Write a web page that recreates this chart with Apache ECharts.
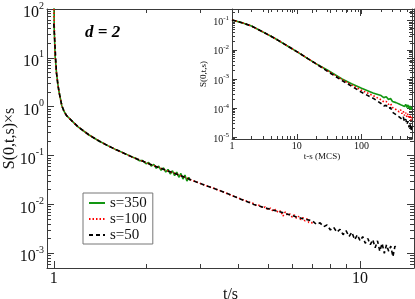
<!DOCTYPE html>
<html><head><meta charset="utf-8">
<script src="https://cdn.jsdelivr.net/npm/echarts@6/dist/echarts.min.js"></script>
<style>html,body{margin:0;padding:0;background:#fff}#c{width:415px;height:299px}</style>
</head><body><div id="c"></div>
<script>
// ---------- MAIN PLOT DATA: S(0,t,s) x s versus t/s ----------
const main350X = [1.0,1.003,1.006,1.01,1.015,1.02,1.03,1.04,1.05,1.062,1.08,1.1,1.15,1.2,1.3,1.4,1.5,1.6,1.7,1.8,1.85,1.9,1.95,2.0,2.04,2.08,2.12,2.16,2.2,2.24,2.28,2.32,2.36,2.4,2.44,2.48,2.52,2.56,2.6,2.64,2.68,2.72,2.76,2.78];
const main350Y = [350,37,23,10.5,7.5,5.0,3.0,2.0,1.5,1.05,0.8,0.66,0.50,0.388,0.267,0.201,0.160,0.131,0.111,0.094,0.088,0.079,0.079,0.068,0.072,0.061,0.066,0.055,0.061,0.050,0.056,0.046,0.052,0.042,0.049,0.039,0.046,0.036,0.043,0.033,0.040,0.030,0.036,0.031];
const main100X = [1.0,1.01,1.015,1.02,1.03,1.04,1.05,1.062,1.08,1.1,1.15,1.2,1.3,1.4,1.5,1.6,1.8,2.0,2.2,2.4,2.6,2.8,3.0,3.5,4.0,4.3,4.5,4.6,4.7,4.8,4.9,5.0,5.1,5.2,5.3,5.4,5.5,5.6,5.7,5.8,5.9,6.0,6.1,6.2,6.3,6.4,6.5,6.6,6.7,6.8,6.9,7.0];
const main100Y = [100,10.5,7.5,5.0,3.0,2.0,1.5,1.05,0.8,0.66,0.50,0.388,0.267,0.201,0.160,0.131,0.094,0.0718,0.057,0.0465,0.0388,0.032,0.027,0.019,0.0135,0.0114,0.0104,0.0093,0.0097,0.0085,0.0089,0.0078,0.0084,0.0073,0.0079,0.0068,0.0074,0.0058,0.0070,0.0060,0.0064,0.0055,0.0061,0.0052,0.0057,0.0049,0.0054,0.0046,0.0051,0.0043,0.0047,0.0042];
const main50X = [1.0,1.02,1.03,1.04,1.05,1.062,1.08,1.1,1.15,1.2,1.3,1.4,1.5,1.6,1.8,2.0,2.2,2.4,2.6,2.8,3.0,3.5,4.0,4.5,5.0,5.5,6.0,6.5,7.0,7.2,7.4,7.6,7.8,8.0,8.2,8.4,8.6,8.8,9.0,9.2,9.4,9.6,9.8,10.0,10.2,10.4,10.6,10.8,11.0,11.2,11.4,11.6,11.8,12.0,12.2,12.4,12.6,12.8,13.0,13.2];
const main50Y = [50,5.0,3.0,2.0,1.5,1.05,0.8,0.66,0.50,0.388,0.267,0.201,0.160,0.131,0.094,0.0718,0.057,0.0465,0.0388,0.032,0.027,0.019,0.0135,0.0100,0.0082,0.0070,0.0059,0.0051,0.0046,0.0039,0.0042,0.0035,0.0038,0.0030,0.0034,0.0027,0.0031,0.0024,0.0029,0.0022,0.0027,0.0019,0.0024,0.0018,0.0022,0.0016,0.0020,0.0015,0.0019,0.0013,0.0018,0.0011,0.0016,0.0010,0.0015,0.0011,0.0014,0.00085,0.0014,0.0012];

// ---------- INSET DATA: S(0,t,s) versus t-s (MCS) ----------
const insetX = [1,1.5,2,3,4,5,7,10,15,20,30,50,70,100,150,200,220,240,260,280,300,320,340,360,380,400,420,440,460,480,500,520,540,560,580,595];
const inset350Y = [0.105,0.082,0.065,0.041,0.029,0.022,0.014,0.0087,0.0049,0.0033,0.002,0.001,6.9e-4,4.8e-4,3.3e-4,2.7e-4,2.3e-4,2.45e-4,2.0e-4,2.15e-4,1.7e-4,1.9e-4,1.55e-4,1.7e-4,1.4e-4,1.55e-4,1.25e-4,1.45e-4,1.15e-4,1.35e-4,1.05e-4,1.3e-4,0.95e-4,1.2e-4,0.88e-4,1.1e-4];
const inset100Y = [0.105,0.082,0.065,0.041,0.029,0.022,0.014,0.0087,0.0049,0.0033,0.0019,9.5e-4,6.3e-4,4.1e-4,2.7e-4,1.95e-4,1.65e-4,1.7e-4,1.35e-4,1.45e-4,1.05e-4,1.2e-4,0.9e-4,1.0e-4,0.75e-4,0.88e-4,0.65e-4,0.78e-4,0.56e-4,0.7e-4,0.5e-4,0.64e-4,0.44e-4,0.58e-4,0.38e-4,0.5e-4];
const inset50Y = [0.105,0.082,0.065,0.041,0.029,0.022,0.014,0.0087,0.0049,0.0033,0.0018,8.8e-4,5.7e-4,3.5e-4,2.2e-4,1.45e-4,1.2e-4,1.25e-4,0.98e-4,1.05e-4,0.72e-4,0.82e-4,0.6e-4,0.68e-4,0.5e-4,0.58e-4,0.42e-4,0.5e-4,0.34e-4,0.42e-4,0.28e-4,0.36e-4,0.22e-4,0.3e-4,0.17e-4,0.25e-4];

// ---------- SERIES NAMES / TICKS ----------
const seriesNames = ['s=350','s=100','s=50'];
const mainXMajor = [1,10];
const mainXMinor = [2,3,4,5,6,7,8,9];
const mainYMajor = [0.001,0.01,0.1,1,10,100];
const mainYMinor = [6e-4,7e-4,8e-4,9e-4,0.002,0.003,0.004,0.005,0.006,0.007,0.008,0.009,0.02,0.03,0.04,0.05,0.06,0.07,0.08,0.09,0.2,0.3,0.4,0.5,0.6,0.7,0.8,0.9,2,3,4,5,6,7,8,9,20,30,40,50,60,70,80,90];
const insetXMajor = [1,10,100];
const insetXMinor = [2,3,4,5,6,7,8,9,20,30,40,50,60,70,80,90,200,300,400,500];
const insetYMajor = [1e-5,1e-4,1e-3,1e-2,1e-1];
const insetYMinor = [9e-6,2e-5,3e-5,4e-5,5e-5,6e-5,7e-5,8e-5,9e-5,2e-4,3e-4,4e-4,5e-4,6e-4,7e-4,8e-4,9e-4,0.002,0.003,0.004,0.005,0.006,0.007,0.008,0.009,0.02,0.03,0.04,0.05,0.06,0.07,0.08,0.09,0.2];

const zip = (xs, ys) => xs.map((x, i) => [x, ys[i]]);
const lg = v => Math.log10(v);
const FONT = '"Liberation Serif", "DejaVu Serif", serif';
const AX = '#3a3a3a';

function powLabel(v) {
  const e = Math.round(Math.log10(v));
  return '{b|10}{s|' + e + '}';
}

// tick-only helper axes (linear in log10 space, matching the log data axes)
function tickAxis(grid, pos, min, max, ticks, len, line) {
  return {type: 'value', gridIndex: grid, position: pos, min: lg(min), max: lg(max),
    splitLine: {show: false}, axisLabel: {show: false},
    axisLine: {show: !!line, onZero: false, lineStyle: {color: AX}},
    axisTick: {show: true, inside: true, length: len, customValues: ticks.map(lg), lineStyle: {color: AX}}};
}

function xAxes(grid, min, max, major, minor, lenMaj, lenMin, labelSize, margin) {
  return [
    {type: 'log', logBase: 10, gridIndex: grid, position: 'bottom', min: min, max: max,
      splitLine: {show: false}, axisTick: {show: false},
      axisLine: {show: true, onZero: false, lineStyle: {color: AX}},
      axisLabel: {show: true, customValues: major, fontFamily: FONT, fontSize: labelSize, color: '#111', margin: margin,
        formatter: v => String(Math.round(v))}},
    tickAxis(grid, 'bottom', min, max, major, lenMaj, false),
    tickAxis(grid, 'bottom', min, max, minor, lenMin, false),
    tickAxis(grid, 'top', min, max, major, lenMaj, true),
    tickAxis(grid, 'top', min, max, minor, lenMin, false)
  ];
}
function yAxes(grid, min, max, major, minor, lenMaj, lenMin, bSize, sSize, lh, pad) {
  return [
    {type: 'log', logBase: 10, gridIndex: grid, position: 'left', min: min, max: max,
      splitLine: {show: false}, axisTick: {show: false},
      axisLine: {show: true, onZero: false, lineStyle: {color: AX}},
      axisLabel: {show: true, customValues: major, margin: 3, formatter: powLabel, padding: [pad, 0, 0, 0],
        rich: {b: {fontFamily: FONT, fontSize: bSize, color: '#111', lineHeight: lh, verticalAlign: 'bottom'},
               s: {fontFamily: FONT, fontSize: sSize, color: '#111', lineHeight: sSize, verticalAlign: 'top'}}}},
    tickAxis(grid, 'left', min, max, major, lenMaj, false),
    tickAxis(grid, 'left', min, max, minor, lenMin, false),
    tickAxis(grid, 'right', min, max, major, lenMaj, true),
    tickAxis(grid, 'right', min, max, minor, lenMin, false)
  ];
}

const xA = xAxes(0, 0.95, 15, mainXMajor, mainXMinor, 7, 4, 16, 3)
  .concat(xAxes(1, 1, 600, insetXMajor, insetXMinor, 5, 3, 10, 2));
const yA = yAxes(0, 5e-4, 100, mainYMajor, mainYMinor, 7, 4, 16, 10, 20, 4)
  .concat(yAxes(1, 8.8e-6, 0.25, insetYMajor, insetYMinor, 5, 3, 10, 7, 13, 1));

function setName(ax, text, gap, size) {
  ax.name = text; ax.nameLocation = 'middle'; ax.nameGap = gap; ax.nameMoveOverlap = false;
  ax.nameTextStyle = {fontFamily: FONT, fontSize: size, color: '#111'};
}
setName(xA[0], 't/s', 19, 16);
setName(yA[0], 'S(0,t,s)\u00d7s', 29, 16);
setName(xA[5], 't-s (MCS)', 13, 9);
setName(yA[5], 'S(0,t,s)', 24, 9);

const colors = ['#129612', '#ff0000', '#000000'];
const styles = [
  {width: 1.6, type: 'solid'},
  {width: 1.6, type: [1.5, 2]},
  {width: 1.6, type: [4, 3]}
];
function ser(name, i, grid, data) {
  return {
    name: name, type: 'line', xAxisIndex: grid * 5, yAxisIndex: grid * 5, data: data,
    showSymbol: false, symbol: 'none', clip: true, animation: false,
    lineStyle: Object.assign({color: colors[i]}, styles[i]), itemStyle: {color: colors[i]}
  };
}

const option = {
  backgroundColor: '#ffffff',
  animation: false,
  grid: [
    {left: 47, top: 9, width: 367, height: 259, show: false, outerBoundsMode: 'none', containLabel: false},
    {left: 232, top: 9, width: 180, height: 130, show: true, backgroundColor: '#ffffff', borderWidth: 0,
      outerBoundsMode: 'none', containLabel: false}
  ],
  xAxis: xA,
  yAxis: yA,
  legend: {
    data: seriesNames, orient: 'vertical', left: 83, top: 193, itemGap: 0, itemWidth: 16, itemHeight: 12,
    backgroundColor: '#fff', borderColor: '#777', borderWidth: 1, padding: [2, 6, 1, 5],
    itemStyle: {opacity: 0},
    textStyle: {fontFamily: FONT, fontSize: 15, lineHeight: 16, color: '#111'}
  },
  graphic: [
    {type: 'text', left: 85, top: 24, style: {text: 'd = 2', font: 'italic bold 17px "Liberation Serif"', fill: '#000'}}
  ],
  series: [
    ser(seriesNames[0], 0, 0, zip(main350X, main350Y)),
    ser(seriesNames[1], 1, 0, zip(main100X, main100Y)),
    ser(seriesNames[2], 2, 0, zip(main50X, main50Y)),
    ser(seriesNames[0], 0, 1, zip(insetX, inset350Y)),
    ser(seriesNames[1], 1, 1, zip(insetX, inset100Y)),
    ser(seriesNames[2], 2, 1, zip(insetX, inset50Y))
  ]
};
const chart = echarts.init(document.getElementById('c'));
chart.setOption(option);
</script></body></html>
